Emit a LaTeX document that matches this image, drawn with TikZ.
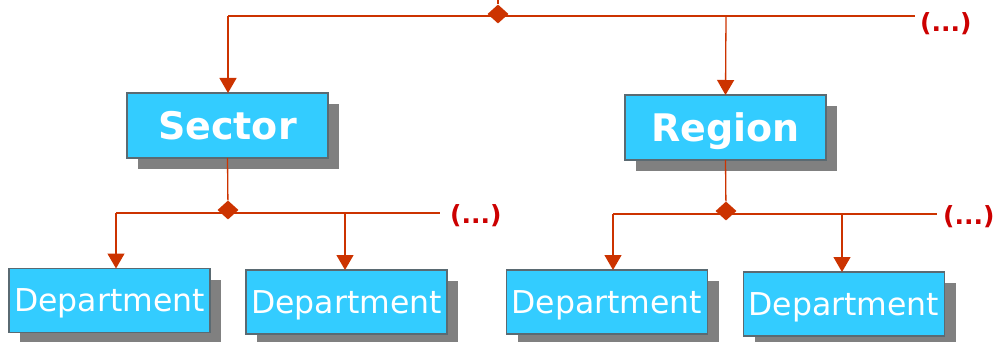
\documentclass[tikz,border=0pt]{standalone}
\usepackage{fontspec}
\setmainfont{DejaVu Sans}
\usetikzlibrary{arrows.meta,shapes.geometric,shadows}
\definecolor{boxfill}{HTML}{33CCFF}
\definecolor{boxline}{HTML}{5A6A72}
\definecolor{wire}{HTML}{CC3300}
\definecolor{moretext}{HTML}{CC0000}
\definecolor{shade}{HTML}{808080}
\begin{document}
\begin{tikzpicture}[x=1pt,y=-1pt,
  unit/.style={draw=boxline, line width=1.3pt, fill=boxfill, text=white,
    inner sep=0pt, outer sep=0pt, text depth=0pt,
    drop shadow={shadow xshift=11pt, shadow yshift=-11pt, fill=shade, opacity=1}},
  bigunit/.style={unit, minimum width=201pt, minimum height=65pt,
    font=\fontsize{38}{40}\selectfont\bfseries},
  dept/.style={unit, minimum width=201pt, minimum height=64pt,
    font=\fontsize{31.5}{33}\selectfont},
  wireline/.style={draw=wire, line width=1.3pt},
  arr/.style={wireline, -{Triangle[width=17pt,length=15pt]}},
  joint/.style={diamond, fill=wire, inner sep=0pt, minimum width=21pt, minimum height=19pt},
  more/.style={text=moretext, font=\fontsize{25}{27}\selectfont\bfseries, inner sep=0pt}
]
\useasboundingbox (0,0) rectangle (996,342);

% boxes
\node[bigunit] (sector) at (227.5,125.5) {Sector};
\node[bigunit] (region) at (725.5,127.5) {Region};
\node[dept] (d1) at (109.5,300.5) {Department};
\node[dept] (d2) at (346.5,302) {Department};
\node[dept] (d3) at (607,302) {Department};
\node[dept] (d4) at (844,304) {Department};

% top level bus
\coordinate (topin) at (498,0);
\coordinate (topl) at (228,16);
\coordinate (topr) at (915,16);
\node[joint] (topj) at (498,14) {};
\node[more, anchor=west] (topmore) at (920,24) {(...)};
\draw[wireline] (topin) -- (topj);
\draw[wireline] (topl) -- (topr);
\draw[arr] (topl) -- (topl |- sector.north);
\draw[arr] (726,16) -- (region.north);

% sector bus
\coordinate (sl) at (116,213);
\coordinate (sr) at (440,213);
\node[joint] (sj) at (228,210) {};
\node[more, anchor=west] (smore) at (450,216) {(...)};
\draw[wireline] (sector.south) -- (sj);
\draw[wireline] (sl) -- (sr);
\draw[arr] (sl) -- (sl |- d1.north);
\draw[arr] (345,213) -- (345,0 |- d2.north);

% region bus
\coordinate (rl) at (613,214);
\coordinate (rr) at (937,214);
\node[joint] (rj) at (726,211) {};
\node[more, anchor=west] (rmore) at (943,217) {(...)};
\draw[wireline] (region.south) -- (rj);
\draw[wireline] (rl) -- (rr);
\draw[arr] (rl) -- (rl |- d3.north);
\draw[arr] (842,214) -- (842,0 |- d4.north);
\end{tikzpicture}
\end{document}
